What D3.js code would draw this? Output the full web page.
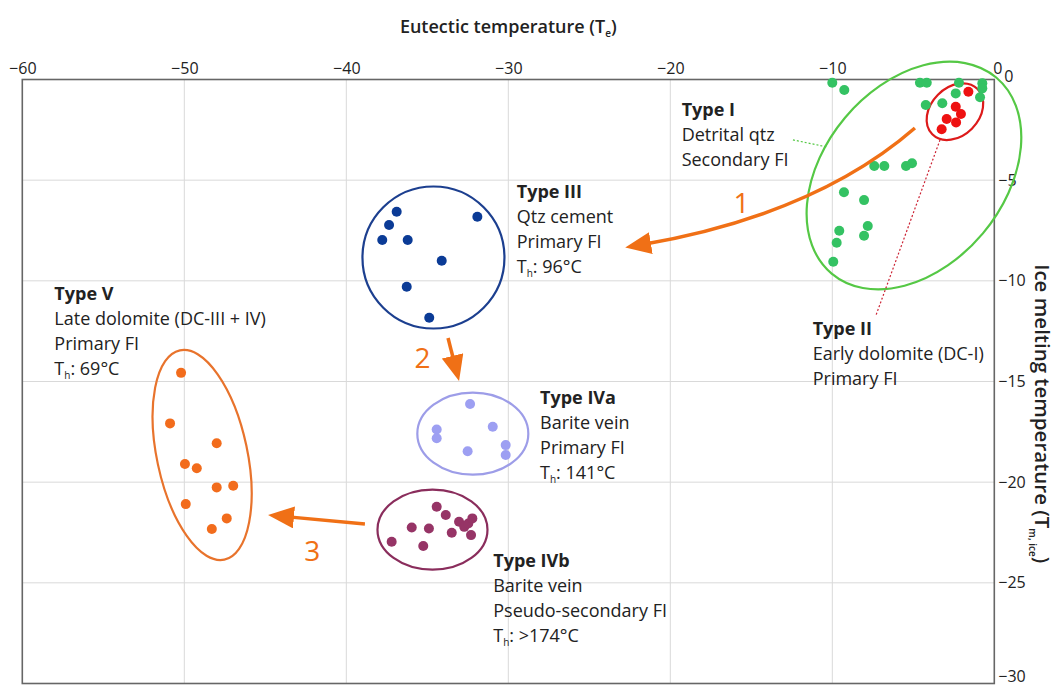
<!DOCTYPE html>
<html>
<head>
<meta charset="utf-8">
<script src="https://cdn.jsdelivr.net/npm/d3@7"></script>
<style>
body { margin: 0; background: #fff; }
text { font-family: "Open Sans", sans-serif; fill: #222; }
</style>
</head>
<body>
<div id="chart"></div>
<script>
// tick values of both axes
var xTicks = [-60, -50, -40, -30, -20, -10, 0];
var yTicks = [0, -5, -10, -15, -20, -25, -30];

// fluid inclusion groups: [eutectic T, ice melting T]
var typeI = [[-10.0,-0.16],[-9.26,-0.52],[-4.59,-0.16],[-4.17,-0.16],[-2.18,-0.16],[-0.74,-0.19],
  [-0.74,-0.44],[-0.88,-0.88],[-2.38,-0.69],[-4.23,-1.27],[-3.21,-1.18],[-7.41,-4.30],[-6.79,-4.30],
  [-5.45,-4.30],[-5.08,-4.16],[-9.28,-5.60],[-8.04,-5.99],[-9.57,-7.51],[-7.81,-7.28],[-8.04,-7.76],
  [-9.73,-8.11],[-9.94,-9.05]];
var typeII = [[-1.60,-0.61],[-2.38,-1.35],[-2.06,-1.71],[-2.94,-1.96],[-2.36,-2.13],[-3.25,-2.47]];
var typeIII = [[-36.89,-6.57],[-37.36,-7.23],[-37.78,-7.97],[-36.21,-7.97],[-31.91,-6.82],
  [-34.11,-9.00],[-36.27,-10.29],[-34.88,-11.83]];
var typeIVa = [[-32.36,-16.12],[-34.42,-17.38],[-34.42,-17.82],[-30.96,-17.25],[-32.51,-18.46],
  [-30.16,-18.16],[-30.16,-18.65]];
var typeIVb = [[-34.42,-21.22],[-33.86,-21.63],[-33.04,-21.97],[-32.72,-22.22],[-32.47,-22.05],
  [-32.22,-21.80],[-32.30,-22.63],[-33.49,-22.51],[-34.90,-22.30],[-35.96,-22.25],[-37.20,-22.96],
  [-35.25,-23.17]];
var typeV = [[-50.2,-14.57],[-50.88,-17.08],[-48.0,-18.07],[-49.96,-19.10],[-49.23,-19.31],
  [-48.0,-20.26],[-46.98,-20.18],[-49.91,-21.09],[-47.38,-21.80],[-48.3,-22.33]];

// annotation text
var labelI = ["Type I", "Detrital qtz", "Secondary FI"];
var labelII = ["Type II", "Early dolomite (DC-I)", "Primary FI"];
var labelIII = ["Type III", "Qtz cement", "Primary FI", "T_h: 96°C"];
var labelIVa = ["Type IVa", "Barite vein", "Primary FI", "T_h: 141°C"];
var labelIVb = ["Type IVb", "Barite vein", "Pseudo-secondary FI", "T_h: >174°C"];
var labelV = ["Type V", "Late dolomite (DC-III + IV)", "Primary FI", "T_h: 69°C"];

var margin = {top: 79.5, right: 61.7, bottom: 4.5, left: 22.3},
    width = 1056 - margin.left - margin.right,
    height = 688 - margin.top - margin.bottom;

var svg = d3.select("#chart")
  .append("svg")
    .attr("width", 1056)
    .attr("height", 688)
  .append("g")
    .attr("transform", "translate(" + margin.left + "," + margin.top + ")");

var x = d3.scaleLinear().domain([-60, 0]).range([0, width]);
var y = d3.scaleLinear().domain([0, -30]).range([0, height]);

// grid
svg.append("g").selectAll("line")
  .data(xTicks.slice(1, -1))
  .enter().append("line")
    .attr("x1", function(d) { return x(d); }).attr("x2", function(d) { return x(d); })
    .attr("y1", 0).attr("y2", height)
    .attr("stroke", "#d9d9d9");
svg.append("g").selectAll("line")
  .data(yTicks.slice(1, -1))
  .enter().append("line")
    .attr("y1", function(d) { return y(d); }).attr("y2", function(d) { return y(d); })
    .attr("x1", 0).attr("x2", width)
    .attr("stroke", "#d9d9d9");

svg.append("rect")
  .attr("width", width).attr("height", height)
  .attr("fill", "none").attr("stroke", "#666").attr("stroke-width", 1.6);

// axes
var xAxis = svg.append("g")
  .call(d3.axisTop(x).tickValues(xTicks).tickSize(0).tickPadding(6).tickFormat(d3.format("d")));
var yAxis = svg.append("g")
  .attr("transform", "translate(" + width + ",0)")
  .call(d3.axisRight(y).tickValues(yTicks).tickSize(0).tickPadding(4).tickFormat(d3.format("d")));
[xAxis, yAxis].forEach(function(a) {
  a.select(".domain").remove();
  a.selectAll("text").style("font-size", "16px").style("font-family", "'Open Sans', sans-serif").attr("fill", "#222");
});
xAxis.selectAll(".tick").filter(function(d) { return d === 0; }).select("text").attr("dx", 3);
yAxis.selectAll(".tick").filter(function(d) { return d === 0; }).select("text").attr("dx", 6).attr("dy", "0.15em");
yAxis.selectAll(".tick").filter(function(d) { return d === -30; }).select("text").attr("dy", "-0.15em");

// axis titles
var tx = svg.append("text")
  .attr("x", x(-30)).attr("y", -47)
  .attr("text-anchor", "middle")
  .style("font-size", "18px").style("font-weight", 600);
tx.append("tspan").text("Eutectic temperature (T");
tx.append("tspan").attr("dy", 4).style("font-size", "10px").text("e");
tx.append("tspan").attr("dy", -4).text(")");

var ty = svg.append("text")
  .attr("transform", "translate(" + (width + 41) + "," + y(-16.6) + ") rotate(90)")
  .attr("text-anchor", "middle")
  .style("font-size", "20.5px").style("font-weight", 600);
ty.append("tspan").text("Ice melting temperature (T");
ty.append("tspan").attr("dy", 6).style("font-size", "10px").text("m, ice");
ty.append("tspan").attr("dy", -6).text(")");

// outlines of each group (centre in data units, radii in px)
var outlines = [
  {c: [-4.96, -4.77], rx: 128, ry: 90, rot: -50, color: "#55c845"},
  {c: [-2.43, -1.60], rx: 32, ry: 24, rot: -45, color: "#dd1a1a"},
  {c: [-34.62, -8.84], rx: 71, ry: 71, rot: 0, color: "#1c3f8f"},
  {c: [-32.19, -17.59], rx: 55.5, ry: 41, rot: 0, color: "#9d9de8"},
  {c: [-34.68, -22.36], rx: 55, ry: 40, rot: 0, color: "#8a2d5c"},
  {c: [-48.9, -18.65], rx: 45.2, ry: 107, rot: -12, color: "#e8732c"}
];
svg.append("g").selectAll("ellipse")
  .data(outlines)
  .enter().append("ellipse")
    .attr("transform", function(d) { return "translate(" + x(d.c[0]) + "," + y(d.c[1]) + ") rotate(" + d.rot + ")"; })
    .attr("rx", function(d) { return d.rx; })
    .attr("ry", function(d) { return d.ry; })
    .attr("fill", "none")
    .attr("stroke", function(d) { return d.color; })
    .attr("stroke-width", 2.2);

// dotted leader lines
var leaders = [
  {p: [[-12.43, -3.0], [-10.33, -3.35]], color: "#55c845"},
  {p: [[-3.35, -3.0], [-7.3, -11.7]], color: "#cc2233"}
];
svg.append("g").selectAll("line")
  .data(leaders)
  .enter().append("line")
    .attr("x1", function(d) { return x(d.p[0][0]); }).attr("y1", function(d) { return y(d.p[0][1]); })
    .attr("x2", function(d) { return x(d.p[1][0]); }).attr("y2", function(d) { return y(d.p[1][1]); })
    .attr("stroke", function(d) { return d.color; })
    .attr("stroke-width", 1.2)
    .attr("stroke-dasharray", "2,2");

// points
var groups = [
  {data: typeI, color: "#34c263"},
  {data: typeII, color: "#ee1111"},
  {data: typeIII, color: "#0b3b96"},
  {data: typeIVa, color: "#9d9ff2"},
  {data: typeIVb, color: "#963466"},
  {data: typeV, color: "#f26c1c"}
];
svg.append("g").selectAll("g")
  .data(groups)
  .enter().append("g")
    .attr("fill", function(d) { return d.color; })
  .selectAll("circle")
  .data(function(d) { return d.data; })
  .enter().append("circle")
    .attr("cx", function(d) { return x(d[0]); })
    .attr("cy", function(d) { return y(d[1]); })
    .attr("r", 5);

// arrows
var orange = "#f07016";
svg.append("defs").append("marker")
    .attr("id", "head")
    .attr("markerUnits", "userSpaceOnUse")
    .attr("viewBox", "0 0 26 22")
    .attr("markerWidth", 26).attr("markerHeight", 22)
    .attr("refX", 11).attr("refY", 11)
    .attr("orient", "auto")
  .append("path")
    .attr("d", "M0,0 L26,11 L0,22 Z")
    .attr("fill", orange);

// curved arrow 1 (start, control, end in data units)
var arrow1 = [[-4.9, -2.41], [-11.07, -6.73], [-21.87, -8.22]];
svg.append("path")
  .attr("d", "M" + x(arrow1[0][0]) + "," + y(arrow1[0][1]) +
             " Q" + x(arrow1[1][0]) + "," + y(arrow1[1][1]) +
             " " + x(arrow1[2][0]) + "," + y(arrow1[2][1]))
  .attr("fill", "none").attr("stroke", orange).attr("stroke-width", 3.5)
  .attr("marker-end", "url(#head)");

// straight arrows 2 and 3 (start, tip)
var straightArrows = [
  [[-33.72, -12.84], [-33.04, -14.98]],
  [[-38.85, -22.08], [-44.83, -21.63]]
];
straightArrows.forEach(function(a) {
  var x1 = x(a[0][0]), y1 = y(a[0][1]), x2 = x(a[1][0]), y2 = y(a[1][1]);
  var len = Math.hypot(x2 - x1, y2 - y1), k = (len - 15) / len;
  svg.append("line")
    .attr("x1", x1).attr("y1", y1)
    .attr("x2", x1 + (x2 - x1) * k).attr("y2", y1 + (y2 - y1) * k)
    .attr("stroke", orange).attr("stroke-width", 3.5)
    .attr("marker-end", "url(#head)");
});

var numbers = [{t: "1", p: [-15.6, -6.63]}, {t: "2", p: [-35.3, -14.33]}, {t: "3", p: [-42.1, -23.9]}];
svg.append("g").selectAll("text")
  .data(numbers)
  .enter().append("text")
    .attr("x", function(d) { return x(d.p[0]); })
    .attr("y", function(d) { return y(d.p[1]); })
    .attr("text-anchor", "middle")
    .style("font-size", "28px")
    .style("fill", orange)
    .text(function(d) { return d.t; });

// text blocks (top-left baseline in data units)
var blocks = [
  {lines: labelI, at: [-19.3, -1.81]},
  {lines: labelII, at: [-11.21, -12.69]},
  {lines: labelIII, at: [-29.48, -5.89]},
  {lines: labelIVa, at: [-28.04, -16.12]},
  {lines: labelIVb, at: [-30.93, -24.22]},
  {lines: labelV, at: [-58.02, -10.95]}
];
blocks.forEach(function(b) {
  b.lines.forEach(function(line, i) {
    var t = svg.append("text")
      .attr("x", x(b.at[0]))
      .attr("y", y(b.at[1]) + i * 25)
      .style("font-size", "18px")
      .style("font-weight", i === 0 ? 700 : 400);
    if (line.indexOf("T_h") === 0) {
      t.append("tspan").text("T");
      t.append("tspan").attr("dy", 4).style("font-size", "10px").text("h");
      t.append("tspan").attr("dy", -4).text(line.slice(3));
    } else {
      t.text(line);
    }
  });
});
</script>
</body>
</html>
